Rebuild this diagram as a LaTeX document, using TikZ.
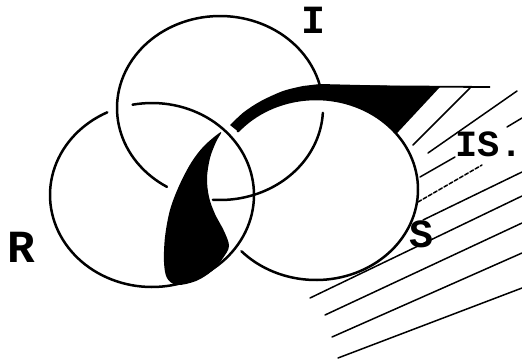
\documentclass[tikz,border=0pt]{standalone}
\usepackage{fontspec}
\newfontfamily\lblfont[Scale=1]{Liberation Mono}
\begin{document}
\begin{tikzpicture}[x=1pt,y=-1pt,
  ring/.style={line width=2.5pt, line cap=round},
  hatch/.style={line width=1.5pt, line cap=round},
  lbl/.style={font=\lblfont\bfseries, inner sep=0pt, anchor=base}]
\useasboundingbox (0,0) rectangle (522,360);
% centres
\coordinate (Ic) at (220,108);
\coordinate (Rc) at (152,195);
\coordinate (Sc) at (316,189.5);
% black band along the top of S and triangle
\fill[black] plot[domain=220:322, samples=40, variable=\t] ({316+102*cos(\t)},{189.5+90.5*sin(\t)})
  -- (399,131) -- (440,87) -- (320,84)
  -- plot[smooth] coordinates {(303,86) (283,91) (261,101) (244,112) (230,125)} -- cycle;
% crescent
\fill[black] plot[smooth cycle, tension=0.55] coordinates {(221,132) (204,146) (191,163) (179,186) (170,210) (165,237) (164,262) (167,278) (177,285) (196,281) (212,271) (223,258) (229,246) (224,231) (215,214) (209,197) (207,178) (210,158) (216,142)};
% ring I (top)
\draw[ring] plot[domain=3:94, samples=40, variable=\t] ({220+103*cos(\t)},{108+92*sin(\t)});
\draw[ring] plot[domain=121:345, samples=80, variable=\t] ({220+103*cos(\t)},{108+92*sin(\t)});
% ring R (left)
\draw[ring] plot[domain=259:604, samples=120, variable=\t] ({152+102*cos(\t)},{195+92*sin(\t)});
% ring S (right)
\draw[ring] plot[domain=220:497, samples=100, variable=\t] ({316+102*cos(\t)},{189.5+90.5*sin(\t)});
% top horizontal line
\draw[line width=1.8pt] (320,86) -- (490,87);
% hatching
\coordinate (a1) at (413,145); \coordinate (a2) at (470,88);
\coordinate (b1) at (428,153); \coordinate (b2) at (517,91);
\coordinate (c1) at (420,177); \coordinate (c2) at (455,157);
\coordinate (c3) at (507,127); \coordinate (c4) at (522,118);
\coordinate (d1) at (418,202); \coordinate (d2) at (482,165);
\coordinate (e1) at (423,220); \coordinate (e2) at (522,172);
\coordinate (g1) at (310,298); \coordinate (g2) at (522,196);
\coordinate (h1) at (325,315); \coordinate (h2) at (522,223);
\coordinate (i1) at (332,337); \coordinate (i2) at (522,253);
\coordinate (j1) at (338,358); \coordinate (j2) at (522,288);
\draw[hatch] (a1) -- (a2);
\draw[hatch] (b1) -- (b2);
\draw[hatch] (c1) -- (c2);
\draw[hatch] (c3) -- (c4);
\draw[hatch, dash pattern=on 4pt off 2pt] (d1) -- (d2);
\draw[hatch] (e1) -- (e2);
\draw[hatch] (g1) -- (g2);
\draw[hatch] (h1) -- (h2);
\draw[hatch] (i1) -- (i2);
\draw[hatch] (j1) -- (j2);
% labels
\node[lbl, font=\lblfont\bfseries\fontsize{40}{40}\selectfont] (labI) at (313,33) {I};
\node[lbl, font=\lblfont\bfseries\fontsize{37}{37}\selectfont] (labIS) at (489,156) {IS.};
\node[lbl, font=\lblfont\bfseries\fontsize{40}{40}\selectfont] (labS) at (421,247) {S};
\node[lbl, font=\lblfont\bfseries\fontsize{46}{46}\selectfont] (labR) at (21,262) {R};
\end{tikzpicture}
\end{document}
